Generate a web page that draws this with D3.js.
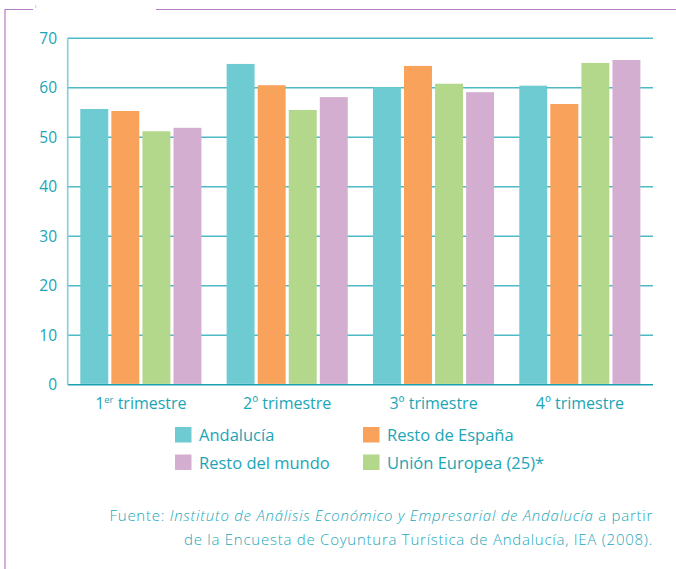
<!DOCTYPE html>
<html>
<head>
<meta charset="utf-8">
<script src="https://cdn.jsdelivr.net/npm/d3@7"></script>
<style>
  body { margin: 0; background: #fff; }
  text { font-family: "Open Sans", "Noto Sans", sans-serif; }
</style>
</head>
<body>
<script>
// datos
const trimestres = ["1", "2", "3", "4"];
const sufijos = ["er", "º", "º", "º"];
const series = ["Andalucía", "Resto de España", "Unión Europea (25)*", "Resto del mundo"];
const colores = ["#6fcbd2", "#f8a25c", "#b3d78b", "#d4aed0"];
const andalucia = [55.7, 64.8, 60.1, 60.4];
const restoEspana = [55.3, 60.5, 64.4, 56.7];
const unionEuropea = [51.2, 55.5, 60.8, 65.0];
const restoMundo = [51.9, 58.1, 59.1, 65.6];
const ticks = [0, 10, 20, 30, 40, 50, 60, 70];

const valores = [andalucia, restoEspana, unionEuropea, restoMundo];
const teal = "#1ba5b6";

const svg = d3.select("body").append("svg")
  .attr("width", 676)
  .attr("height", 569);

// marco morado
const marco = "#b27fc4";
svg.append("path")
  .attr("d", "M5,569 V9.5 H33")
  .attr("fill", "none").attr("stroke", marco).attr("stroke-width", 1.2);
svg.append("line")
  .attr("x1", 156).attr("x2", 676).attr("y1", 9.5).attr("y2", 9.5)
  .attr("stroke", marco).attr("stroke-width", 1.2);
svg.append("text").attr("x", 35).attr("y", 8).text("ı")
  .attr("font-size", 6).attr("fill", marco);

const x0 = 67.7, x1 = 653;
const y = d3.scaleLinear().domain([0, 70]).range([384.7, 38.2]);
const x = d3.scaleBand().domain(trimestres).range([x0, x1]).paddingInner(0).paddingOuter(0);
const xs = d3.scaleBand().domain(d3.range(4)).range([12.6, x.bandwidth() - 12.6]).paddingInner(0.1);

// rejilla
svg.append("g").selectAll("line")
  .data(ticks)
  .enter().append("line")
  .attr("x1", x0).attr("x2", x1)
  .attr("y1", function (d) { return y(d); })
  .attr("y2", function (d) { return y(d); })
  .attr("stroke", function (d) { return d === 0 ? "#1aa0b0" : "#4dbac5"; })
  .attr("stroke-width", 1.6);

svg.append("line")
  .attr("x1", x0).attr("x2", x0).attr("y1", y(70)).attr("y2", y(0))
  .attr("stroke", "#7fd0d7").attr("stroke-width", 1.6);

// etiquetas eje y
svg.append("g").selectAll("text")
  .data(ticks)
  .enter().append("text")
  .attr("x", 57)
  .attr("y", function (d) { return y(d) + 5.5; })
  .attr("text-anchor", "end")
  .attr("font-size", 15.5)
  .attr("font-weight", 500)
  .attr("fill", teal)
  .text(function (d) { return d; });

// barras
const grupos = svg.append("g").selectAll("g")
  .data(trimestres)
  .enter().append("g")
  .attr("transform", function (d) { return "translate(" + x(d) + ",0)"; });

grupos.selectAll("rect")
  .data(function (d, i) { return valores.map(function (v, s) { return { s: s, v: v[i] }; }); })
  .enter().append("rect")
  .attr("x", function (d) { return xs(d.s); })
  .attr("width", xs.bandwidth())
  .attr("y", function (d) { return y(d.v); })
  .attr("height", function (d) { return y(0) - y(d.v) - 0.8; })
  .attr("fill", function (d) { return colores[d.s]; });

// etiquetas eje x
const etiquetas = svg.append("g").selectAll("text")
  .data(trimestres)
  .enter().append("text")
  .attr("x", function (d) { return x(d) + x.bandwidth() / 2; })
  .attr("y", 408.5)
  .attr("text-anchor", "middle")
  .attr("font-size", 16)
  .attr("font-weight", 500)
  .attr("fill", teal);
etiquetas.append("tspan").text(function (d) { return d; });
etiquetas.append("tspan")
  .text(function (d, i) { return sufijos[i]; })
  .attr("font-size", function (d, i) { return i === 0 ? 9.5 : 16; })
  .attr("dy", function (d, i) { return i === 0 ? -6 : 0; });
etiquetas.append("tspan")
  .text(" trimestre")
  .attr("dy", function (d, i) { return i === 0 ? 6 : 0; });

// leyenda
const leyenda = [
  { s: 0, x: 175, y: 427 },
  { s: 1, x: 363, y: 427 },
  { s: 3, x: 175, y: 454.5 },
  { s: 2, x: 363, y: 454.5 }
];
const items = svg.append("g").selectAll("g")
  .data(leyenda)
  .enter().append("g")
  .attr("transform", function (d) { return "translate(" + d.x + "," + d.y + ")"; });
items.append("rect")
  .attr("width", 16.5).attr("height", 15.5)
  .attr("fill", function (d) { return colores[d.s]; });
items.append("text")
  .attr("x", 24).attr("y", 14)
  .attr("font-size", 16.5)
  .attr("font-weight", 500)
  .attr("fill", teal)
  .text(function (d) { return series[d.s]; });

// fuente
const fuente = svg.append("text")
  .attr("x", 653).attr("y", 520.5)
  .attr("text-anchor", "end")
  .attr("font-size", 15)
  .attr("font-weight", 300)
  .attr("letter-spacing", 0.75)
  .attr("fill", "#1ea7b8");
fuente.append("tspan").text("Fuente: ");
fuente.append("tspan").attr("font-style", "italic")
  .text("Instituto de Análisis Económico y Empresarial de Andalucía");
fuente.append("tspan").text(" a partir");

svg.append("text")
  .attr("x", 653).attr("y", 545)
  .attr("text-anchor", "end")
  .attr("font-size", 15)
  .attr("font-weight", 300)
  .attr("letter-spacing", 0.75)
  .attr("fill", "#1ea7b8")
  .text("de la Encuesta de Coyuntura Turística de Andalucía, IEA (2008).");
</script>
</body>
</html>
